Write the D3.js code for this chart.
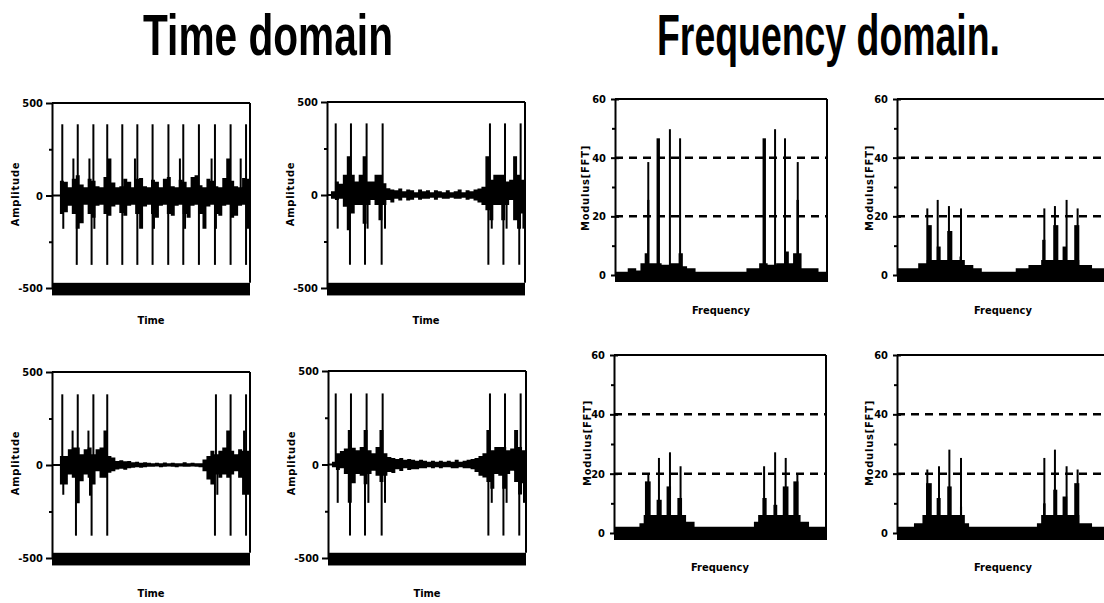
<!DOCTYPE html>
<html>
<head>
<meta charset="utf-8">
<script src="https://cdn.jsdelivr.net/npm/d3@7/dist/d3.min.js"></script>
<style>
  body { margin: 0; background: #fff; }
  svg { display: block; }
</style>
</head>
<body>
<svg id="chart" width="1104" height="603"></svg>
<script>
// axis ticks
const timeTicks = [-500, 0, 500];
const timeMinor = [-250, 250];
const freqTicks = [0, 20, 40, 60];
const freqMinor = [10, 30, 50];
const gridLevels = [20, 40];

// envelopes are read every 2 units along the x axis (0..100)
const envStep = 2;

// ---- time domain: spikes [t, amplitude] and envelope hi / lo ----
const spikesTL = [
  [5.2, 385], [13.0, 385], [20.9, 385], [27.9, 385], [35.5, 385], [43.1, 385], [50.8, 385],
  [58.8, 385], [66.3, 385], [74.2, 385], [82.3, 385], [90.2, 385], [98.0, 385],
  [12.5, -375], [20.0, -375], [27.9, -375], [35.5, -375], [43.1, -375], [50.8, -375],
  [58.7, -375], [66.3, -375], [74.2, -375], [82.3, -375], [90.2, -375], [98.0, -375],
  [5.7, -180], [10.8, 200], [18.9, 200], [21.4, -180], [41.9, 200], [51.5, -180],
  [64.6, 200], [67.2, -180], [80.6, 200], [82.8, -180], [95.3, 200]
];
const hiTL = [0, 0, 80, 75, 45, 90, 110, 60, 45, 90, 80, 50, 45, 100, 200, 70, 45, 50, 90, 75,
  45, 90, 95, 50, 45, 85, 75, 45, 90, 100, 50, 45, 85, 75, 45, 100, 110, 55, 45, 90,
  80, 50, 45, 95, 200, 80, 50, 45, 95, 90];
const loTL = [0, 0, -100, -90, -55, -100, -180, -150, -50, -100, -120, -55, -50, -100, -110, -60, -50, -95, -110, -55,
  -50, -100, -180, -60, -50, -100, -120, -55, -50, -100, -110, -55, -50, -100, -120, -55, -50, -100, -180, -60,
  -50, -100, -110, -55, -50, -120, -110, -55, -50, -180];

const spikesTR = [
  [4.4, 385], [12.1, 385], [20.0, 385], [28.1, 385], [82.3, 385], [89.9, 385], [97.8, 385],
  [11.6, -375], [19.2, -375], [27.6, -375], [81.5, -375], [89.1, -375], [97.1, -375],
  [5.4, -181], [20.5, -181], [29.3, -181], [83.2, -181], [90.7, -181], [99.2, -181]
];
const hiTR = [0, 20, 72, 60, 109, 208, 109, 72, 109, 208, 72, 72, 109, 109, 63, 36, 30, 25, 35, 20,
  30, 25, 15, 30, 20, 25, 15, 25, 20, 15, 25, 15, 20, 30, 15, 25, 20, 30, 35, 45,
  208, 82, 109, 109, 109, 72, 82, 208, 109, 82];
const loTR = [0, -20, -27, -20, -63, -190, -100, -54, -54, -154, -54, -27, -54, -136, -54, -27, -40, -20, -30, -15,
  -30, -25, -15, -25, -20, -20, -15, -25, -15, -20, -20, -15, -20, -20, -15, -25, -20, -30, -40, -54,
  -82, -136, -54, -54, -136, -54, -27, -136, -181, -100];

const spikesBL = [
  [5.2, 380], [13.0, 380], [20.9, 380], [27.9, 380], [82.8, 380], [90.2, 380], [98.0, 380],
  [12.1, -380], [20.0, -380], [27.9, -380], [82.3, -380], [90.2, -380], [98.0, -380],
  [5.7, -160], [10.4, 185], [18.4, 185], [19.2, -165], [83.5, -160], [97.0, 185]
];
const hiBL = [0, 0, 49, 49, 85, 94, 94, 58, 85, 94, 58, 85, 94, 185, 49, 40, 22, 25, 20, 22,
  15, 18, 12, 15, 12, 10, 12, 10, 14, 10, 12, 10, 10, 15, 10, 12, 10, 10, 30, 49,
  76, 58, 76, 94, 185, 76, 58, 85, 76, 76];
const loBL = [0, 0, -105, -105, -51, -69, -205, -87, -51, -69, -105, -33, -69, -69, -42, -33, -24, -20, -25, -18,
  -15, -12, -15, -12, -10, -10, -8, -12, -10, -8, -10, -12, -8, -10, -10, -8, -10, -12, -33, -78,
  -105, -51, -69, -51, -69, -51, -33, -69, -160, -160];

const spikesBR = [
  [3.9, 380], [11.6, 380], [19.5, 380], [27.6, 380], [81.8, 380], [89.4, 380], [97.3, 380],
  [11.1, -380], [18.7, -380], [27.1, -380], [81.0, -380], [88.6, -380], [96.6, -380],
  [4.9, -205], [20.4, -205], [28.8, -205], [82.7, -205], [90.2, -205], [99.0, -205]
];
const hiBR = [0, 15, 60, 72, 85, 185, 90, 76, 94, 185, 76, 60, 94, 185, 60, 40, 35, 30, 35, 25,
  30, 25, 20, 25, 20, 15, 20, 15, 20, 15, 20, 15, 25, 15, 20, 25, 30, 35, 45, 60,
  185, 76, 94, 94, 94, 76, 85, 185, 94, 76];
const loBR = [0, -15, -30, -20, -51, -205, -100, -51, -60, -105, -51, -33, -60, -94, -60, -40, -45, -25, -35, -20,
  -30, -25, -25, -20, -20, -15, -20, -15, -20, -15, -15, -20, -20, -15, -20, -20, -25, -40, -60, -70,
  -94, -130, -51, -60, -130, -51, -33, -94, -160, -100];

// ---- frequency domain: peaks [f0, f1, modulus] and base envelope ----
const peaksTL = [[15.2, 16.2, 25.6], [15.7, 15.7, 38.5], [19.6, 21.2, 46.6], [25.9, 25.9, 49.7], [30.7, 30.7, 46.6],
  [69.6, 71.2, 46.6], [75.5, 75.5, 49.7], [80.2, 80.2, 46.6], [85.6, 86.8, 25.6], [86.2, 86.2, 38.5]];
const envTL = [1.1, 1.1, 1.1, 2.3, 2.3, 1.5, 4, 7.4, 4, 4, 4, 3.5, 3.5, 4, 4, 7.4, 3, 2.3, 2.3, 1.1,
  1.1, 1.1, 1.1, 1.1, 1.1, 1.1, 1.1, 1.1, 1.1, 1.1, 1.1, 2.3, 2.3, 2.3, 4, 4, 3.5, 3.5, 4, 4,
  8, 4, 7.4, 7.4, 2.3, 2.3, 2.3, 2.3, 1.1, 1.1];

const peaksTR = [[14.3, 16.4, 17], [18.7, 20.6, 9.7], [23.7, 26.1, 15], [29.5, 30.5, 6.3],
  [68.5, 70, 12], [73.7, 76.1, 17], [78.1, 80, 9.7], [83.6, 86, 17],
  [14.3, 14.3, 22.7], [19.2, 19.2, 25.6], [24.5, 24.5, 23.5], [30.2, 30.2, 22.7],
  [69.5, 69.5, 22.7], [74.5, 74.5, 23.5], [80, 80, 25.6], [85.2, 85.2, 22.7]];
const envTR = [2.3, 2.3, 2.3, 2.3, 2.3, 4, 4, 5.1, 5.1, 5.1, 5.1, 5.1, 5.1, 5.1, 5.1, 5.1, 3.4, 3.4, 2.3, 2.3,
  1.1, 1.1, 1.1, 1.1, 1.1, 1.1, 1.1, 1.1, 2.3, 2.3, 2.3, 3.4, 3.4, 3.4, 5.1, 5.1, 5.1, 5.1, 5.1, 5.1,
  5.1, 5.1, 5.1, 3.4, 3.4, 3.4, 2.3, 2.3, 2.3, 2.3];

const peaksBL = [[14.6, 17.3, 17.4], [20.1, 22.5, 11.2], [24.8, 26.9, 15.7], [29.9, 32.1, 11.8],
  [70, 72, 11.8], [75.2, 77, 9.5], [79.6, 82.3, 15.7], [84.6, 87, 17.4],
  [16.2, 16.2, 20.2], [21.2, 21.2, 25.3], [26.4, 26.4, 27.2], [31.4, 31.4, 22.5],
  [70.8, 70.8, 22.5], [76, 76, 27.2], [81, 81, 25.3], [86.5, 86.5, 20.2]];
const envBL = [2.1, 2.1, 2.1, 2.1, 2.1, 2.1, 3.3, 6.1, 6.1, 6.1, 6.1, 6.1, 6.1, 6.1, 6.1, 6.1, 6.1, 3.8, 3.8, 2.1,
  2.1, 2.1, 2.1, 2.1, 2.1, 2.1, 2.1, 2.1, 2.1, 2.1, 2.1, 2.1, 2.1, 3.8, 6.1, 6.1, 6.1, 6.1, 6.1, 6.1,
  6.1, 6.1, 6.1, 6.1, 3.8, 3.8, 2.1, 2.1, 2.1, 2.1];

const peaksBR = [[13.7, 16.4, 16.8], [18.7, 20.6, 11.8], [23.7, 25.8, 15.7], [29.7, 30.7, 8.9],
  [68.9, 70.1, 10], [73.7, 75.6, 14.6], [78.1, 80.3, 12.3], [83.6, 86, 16.8],
  [14.3, 14.3, 21.4], [19.8, 19.8, 22.5], [24.7, 24.7, 28.1], [30.2, 30.2, 25.3],
  [69.5, 69.5, 25.3], [74.5, 74.5, 28.1], [80, 80, 22.5], [85.2, 85.2, 21.4]];
const envBR = [2.1, 2.1, 2.1, 2.1, 3.3, 3.3, 6.1, 6.1, 6.1, 6.1, 6.1, 6.1, 6.1, 6.1, 6.1, 6.1, 3.3, 2.1, 2.1, 2.1,
  2.1, 2.1, 2.1, 2.1, 2.1, 2.1, 2.1, 2.1, 2.1, 2.1, 2.1, 2.1, 2.1, 3.3, 6.1, 6.1, 6.1, 6.1, 6.1, 6.1,
  6.1, 6.1, 6.1, 3.3, 3.3, 3.3, 2.1, 2.1, 2.1, 2.1];

const FONT = "'DejaVu Sans Condensed', 'Liberation Sans Narrow', 'DejaVu Sans', sans-serif";
const svg = d3.select("#chart");
svg.append("rect").attr("width", 1104).attr("height", 603).attr("fill", "#fff");

// titles: bold sans squeezed horizontally to the reference width
function title(txt, x, len) {
  const t = svg.append("text")
    .attr("font-family", "'Liberation Sans', Arial, sans-serif")
    .attr("font-weight", "bold")
    .attr("font-size", 58)
    .text(txt);
  const natural = t.node().getComputedTextLength();
  t.attr("transform", "translate(" + x + ",55) scale(" + (len / natural) + ",1)");
}
title("Time domain", 143, 250);
title("Frequency domain.", 657, 343);

function toSteps(hi, lo) {
  const s = hi.map((h, i) => ({ x: i * envStep, hi: h, lo: lo ? lo[i] : null }));
  s.push({ x: 100, hi: hi[hi.length - 1], lo: lo ? lo[lo.length - 1] : null });
  return s;
}

function styleAxis(ax) {
  ax.select(".domain").attr("stroke-width", 2);
  ax.selectAll(".tick line").attr("stroke-width", 2);
  ax.selectAll(".tick text")
    .attr("font-family", FONT)
    .attr("font-weight", "bold")
    .attr("font-size", 11)
    .attr("fill", "#000");
}

function axisLabels(cfg, xlab, ylab) {
  svg.append("text")
    .attr("x", cfg.left + cfg.w / 2).attr("y", cfg.xlabY)
    .attr("text-anchor", "middle")
    .attr("font-family", FONT).attr("font-weight", "bold").attr("font-size", 11)
    .text(xlab);
  svg.append("text")
    .attr("transform", "translate(" + cfg.ylabX + "," + cfg.ylabY + ") rotate(-90)")
    .attr("text-anchor", "middle")
    .attr("font-family", FONT).attr("font-weight", "bold").attr("font-size", 11)
    .attr("letter-spacing", 0.8)
    .text(ylab);
}

function drawTime(cfg) {
  const x = d3.scaleLinear().domain([0, 100]).range([cfg.left, cfg.left + cfg.w]);
  const y = d3.scaleLinear().domain([-500, 500]).range([cfg.bottom, cfg.top]);
  const g = svg.append("g");

  // envelope of the signal
  const area = d3.area().curve(d3.curveStepAfter)
    .x(d => x(d.x)).y0(d => y(d.lo)).y1(d => y(d.hi));
  g.append("path").datum(toSteps(cfg.hi, cfg.lo)).attr("d", area).attr("fill", "#000");

  // zero trace
  g.append("line").attr("x1", x(0)).attr("x2", x(100)).attr("y1", y(0)).attr("y2", y(0))
    .attr("stroke", "#000").attr("stroke-width", 2);

  // spikes
  g.selectAll(".spike").data(cfg.spikes).join("line")
    .attr("class", "spike")
    .attr("x1", d => x(d[0])).attr("x2", d => x(d[0]))
    .attr("y1", y(0)).attr("y2", d => y(d[1]))
    .attr("stroke", "#000").attr("stroke-width", 2);

  // thick bottom band
  g.append("rect").attr("x", x(0)).attr("width", x(100) - x(0))
    .attr("y", y(-472)).attr("height", y(-540) - y(-472)).attr("fill", "#000");

  // frame
  g.append("line").attr("x1", x(0)).attr("x2", x(100)).attr("y1", y(500)).attr("y2", y(500))
    .attr("stroke", "#000").attr("stroke-width", 2);
  g.append("line").attr("x1", x(100)).attr("x2", x(100)).attr("y1", y(500)).attr("y2", y(-472))
    .attr("stroke", "#000").attr("stroke-width", 2);

  const ax = g.append("g").attr("transform", "translate(" + x(0) + ",0)")
    .call(d3.axisLeft(y).tickValues(timeTicks).tickSize(6).tickSizeOuter(0).tickPadding(3)
      .tickFormat(d => String(d)));
  styleAxis(ax);
  const mn = g.append("g").attr("transform", "translate(" + x(0) + ",0)")
    .call(d3.axisLeft(y).tickValues(timeMinor).tickSize(3).tickFormat(""));
  mn.select(".domain").remove();
  mn.selectAll(".tick line").attr("stroke-width", 2);

  axisLabels(cfg, "Time", "Amplitude");
}

function drawFreq(cfg) {
  const x = d3.scaleLinear().domain([0, 100]).range([cfg.left, cfg.left + cfg.w]);
  const y = d3.scaleLinear().domain([0, 60]).range([cfg.zero, cfg.top]);
  const g = svg.append("g");

  // base level of the spectrum, band below zero included
  const area = d3.area().curve(d3.curveStepAfter)
    .x(d => x(d.x)).y0(y(-2.4)).y1(d => y(d.hi));
  g.append("path").datum(toSteps(cfg.env)).attr("d", area).attr("fill", "#000");

  // peaks: ranges as bars, single frequencies as lines
  const wide = cfg.peaks.filter(d => d[1] > d[0]);
  const thin = cfg.peaks.filter(d => d[1] <= d[0]);
  g.selectAll(".pbar").data(wide).join("rect")
    .attr("class", "pbar")
    .attr("x", d => x(d[0])).attr("width", d => x(d[1]) - x(d[0]))
    .attr("y", d => y(d[2])).attr("height", d => y(0) - y(d[2]))
    .attr("fill", "#000");
  g.selectAll(".pline").data(thin).join("line")
    .attr("class", "pline")
    .attr("x1", d => x(d[0])).attr("x2", d => x(d[0]))
    .attr("y1", y(0)).attr("y2", d => y(d[2]))
    .attr("stroke", "#000").attr("stroke-width", 2);

  // dashed reference levels
  g.selectAll(".grid").data(gridLevels).join("line")
    .attr("class", "grid")
    .attr("x1", x(0)).attr("x2", x(100))
    .attr("y1", d => y(d)).attr("y2", d => y(d))
    .attr("stroke", "#000").attr("stroke-width", 2.5)
    .attr("stroke-dasharray", "8,6");

  // frame
  g.append("line").attr("x1", x(0)).attr("x2", x(100)).attr("y1", y(60)).attr("y2", y(60))
    .attr("stroke", "#000").attr("stroke-width", 2);
  g.append("line").attr("x1", x(100)).attr("x2", x(100)).attr("y1", y(60)).attr("y2", y(-2.4))
    .attr("stroke", "#000").attr("stroke-width", 2);

  const ax = g.append("g").attr("transform", "translate(" + x(0) + ",0)")
    .call(d3.axisLeft(y).tickValues(freqTicks).tickSize(4).tickSizeOuter(0).tickPadding(5)
      .tickFormat(d => String(d)));
  styleAxis(ax);
  ax.selectAll(".tick line").attr("x1", 4);
  const mn = g.append("g").attr("transform", "translate(" + x(0) + ",0)")
    .call(d3.axisLeft(y).tickValues(freqMinor).tickSize(3).tickFormat(""));
  mn.select(".domain").remove();
  mn.selectAll(".tick line").attr("stroke-width", 2);

  axisLabels(cfg, "Frequency", "Modulus[FFT]");
}

drawTime({ left: 52, w: 198, top: 103, bottom: 288, spikes: spikesTL, hi: hiTL, lo: loTL, xlabY: 324, ylabX: 19, ylabY: 194 });
drawTime({ left: 327, w: 198, top: 102, bottom: 288, spikes: spikesTR, hi: hiTR, lo: loTR, xlabY: 324, ylabX: 294, ylabY: 194 });
drawTime({ left: 52, w: 198, top: 372, bottom: 558, spikes: spikesBL, hi: hiBL, lo: loBL, xlabY: 597, ylabX: 19, ylabY: 463 });
drawTime({ left: 328, w: 198, top: 371, bottom: 558, spikes: spikesBR, hi: hiBR, lo: loBR, xlabY: 597, ylabX: 295, ylabY: 463 });

drawFreq({ left: 615, w: 212, top: 99, zero: 275, peaks: peaksTL, env: envTL, xlabY: 314, ylabX: 589, ylabY: 188 });
drawFreq({ left: 897, w: 212, top: 99, zero: 275, peaks: peaksTR, env: envTR, xlabY: 314, ylabX: 873, ylabY: 188 });
drawFreq({ left: 614, w: 212, top: 355, zero: 533, peaks: peaksBL, env: envBL, xlabY: 571, ylabX: 591, ylabY: 443 });
drawFreq({ left: 897, w: 212, top: 355, zero: 533, peaks: peaksBR, env: envBR, xlabY: 571, ylabX: 873, ylabY: 443 });
</script>
</body>
</html>
